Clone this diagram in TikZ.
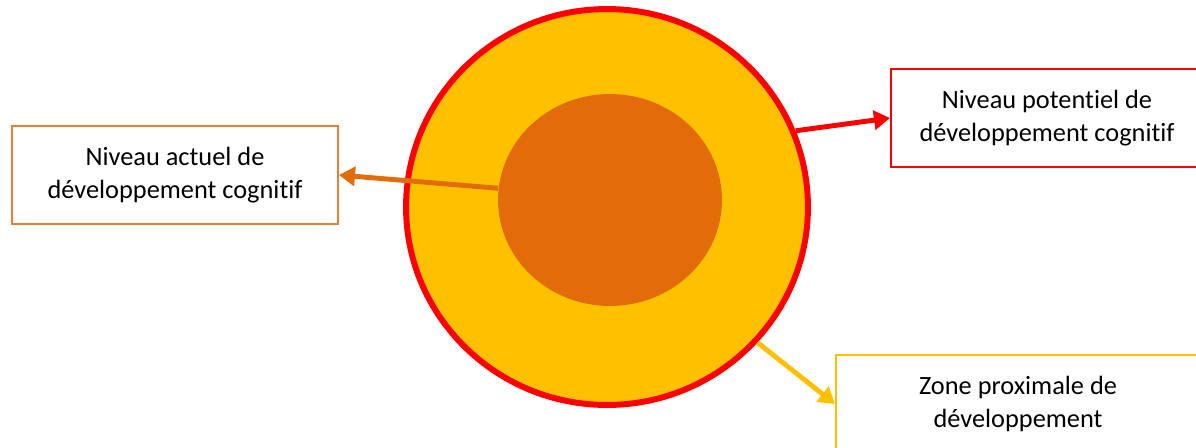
\documentclass[tikz,border=0pt]{standalone}
\usepackage{fontspec}
\setmainfont{Carlito}[Ligatures=NoCommon]
\usetikzlibrary{shapes.geometric, arrows.meta}
\definecolor{ZPDyellow}{HTML}{FFC000}
\definecolor{ZPDred}{HTML}{FF0000}
\definecolor{ZPDorange}{HTML}{E36C0A}
\definecolor{ZPDboxorange}{HTML}{ED7D31}

\begin{document}
\begin{tikzpicture}[x=0.02cm, y=-0.02cm,
      level/.style={draw, line width=1.2pt, fill=white, minimum height=1.96cm,
        align=center, font=\fontsize{15}{18.7}\selectfont},
      link/.style={line width=2.8pt, -{Triangle[length=0.32cm, width=0.38cm]}}]

      % Frame of the picture
      \useasboundingbox (0,0) rectangle (1196,447);
      \clip (0,0) rectangle (1196,447);

      % Draw the two levels
      \node[ellipse, draw=ZPDred, line width=3.4pt, fill=ZPDyellow,
        minimum width=8.04cm, minimum height=7.92cm, inner sep=0pt] (zone) at (607,207) {};
      \node[ellipse, fill=ZPDorange, minimum width=4.48cm, minimum height=4.24cm,
        inner sep=0pt] (actuel) at (610,200) {};

      % Label boxes
      \node[level, draw=ZPDboxorange, minimum width=6.52cm] (nactuel) at (175,175)
        {Niveau actuel de\\développement cognitif};
      \node[level, draw=ZPDred, minimum width=6.24cm] (npotentiel) at (1047,118)
        {Niveau potentiel de\\développement cognitif};
      \node[level, draw=ZPDyellow, minimum width=7.28cm] (nzone) at (1018,404)
        {Zone proximale de\\développement};

      % Arrows from the circles to the boxes
      \draw[link, ZPDorange] (actuel.174) -- (nactuel.east);
      \draw[link, ZPDred] (zone.22) -- (npotentiel.west);
      \draw[link, ZPDyellow] (zone.-42) -- (nzone.west);
   \end{tikzpicture}
\end{document}
